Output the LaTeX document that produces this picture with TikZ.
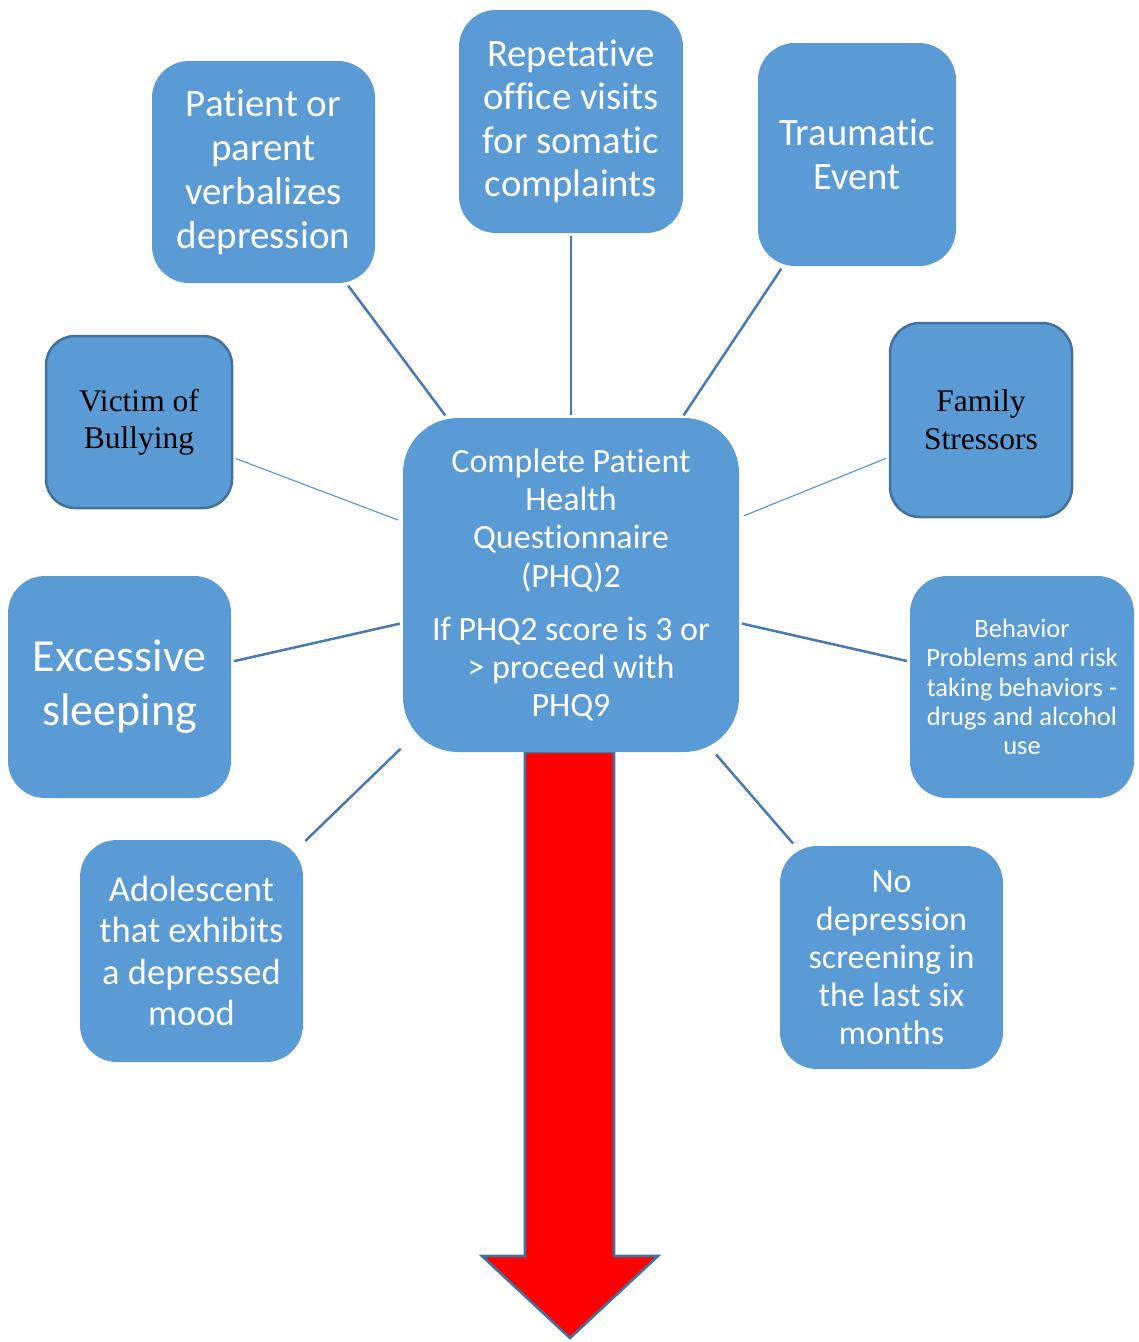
\documentclass[tikz,border=0pt]{standalone}
\usepackage{fontspec}
\newfontfamily\calibri[RawFeature={-liga;-clig;-dlig}]{Carlito}
\newfontfamily\tnr{Liberation Serif}
\definecolor{boxblue}{HTML}{5B9BD5}
\definecolor{edgeblue}{HTML}{41719C}
\definecolor{lineblue}{HTML}{4779B5}
\tikzset{
  box/.style={rectangle, rounded corners=#1, fill=boxblue, inner sep=0pt,
    align=center, text=white},
  box/.default=37pt,
  sbox/.style={box=#1, draw=edgeblue, line width=2.5pt, text=black},
  conn/.style={draw=lineblue, line width=2.5pt, shorten <=3pt, shorten >=3pt},
  thinconn/.style={draw=boxblue, line width=1.2pt, shorten <=3pt, shorten >=5pt},
  redarrow/.style={fill=red, draw=edgeblue, line width=2.6pt, line join=miter}
}
\begin{document}
\begin{tikzpicture}[x=1pt,y=-1pt]
\useasboundingbox (0,0) rectangle (1139,1342);
% block arrow (behind the central box)
\draw[redarrow] (525,752) -- (525,1256) -- (482,1256) -- (570,1338) -- (658,1256) -- (614,1256) -- (614,752) -- cycle;

\node[box=55pt, minimum width=336pt, minimum height=334pt,
  font=\calibri\fontsize{34}{38.3}\selectfont] (ctr) at (571,585)
  {Complete Patient\\Health\\Questionnaire\\(PHQ)2\\[15pt]If PHQ2 score is 3 or\\> proceed with\\PHQ9};

\node[box, minimum width=223pt, minimum height=222pt,
  font=\calibri\fontsize{39}{44}\selectfont] (pat) at (263.5,172)
  {Patient or\\parent\\verbalizes\\depression};
\node[box, minimum width=224pt, minimum height=223pt,
  font=\calibri\fontsize{38.7}{43.5}\selectfont] (rep) at (571,121.5)
  {Repetative\\office visits\\for somatic\\complaints};
\node[box, minimum width=198pt, minimum height=223pt,
  font=\calibri\fontsize{38.7}{44}\selectfont] (tra) at (857,154.5)
  {Traumatic\\Event};
\node[sbox=29pt, minimum width=186pt, minimum height=172pt,
  font=\tnr\fontsize{31.5}{37}\selectfont] (vic) at (139,422)
  {Victim of\\Bullying};
\node[sbox=30pt, minimum width=182pt, minimum height=194pt,
  font=\tnr\fontsize{31.5}{38}\selectfont] (fam) at (981,420)
  {Family\\Stressors};
\node[box, minimum width=223pt, minimum height=222pt,
  font=\calibri\fontsize{46}{54}\selectfont] (exc) at (119.5,687)
  {Excessive\\sleeping};
\node[box, minimum width=224pt, minimum height=222pt,
  font=\calibri\fontsize{26.5}{29.3}\selectfont] (beh) at (1022,687)
  {Behavior\\Problems and risk\\taking behaviors -\\drugs and alcohol\\use};
\node[box, minimum width=223pt, minimum height=222pt,
  font=\calibri\fontsize{36.5}{41.3}\selectfont] (ado) at (191.5,951)
  {Adolescent\\that exhibits\\a depressed\\mood};
\node[box, minimum width=223pt, minimum height=223pt,
  font=\calibri\fontsize{34}{38}\selectfont] (nod) at (891.5,957.5)
  {No\\depression\\screening in\\the last six\\months};

\draw[conn] (pat) -- (ctr);
\draw[conn] (rep) -- (ctr);
\draw[conn] (tra) -- (ctr);
\draw[thinconn] (vic) -- (ctr);
\draw[thinconn] (fam) -- (ctr);
\draw[conn] (exc) -- (ctr);
\draw[conn] (beh) -- (ctr);
\draw[conn] (ado) -- (ctr);
\draw[conn] (nod) -- (ctr);
\end{tikzpicture}
\end{document}
